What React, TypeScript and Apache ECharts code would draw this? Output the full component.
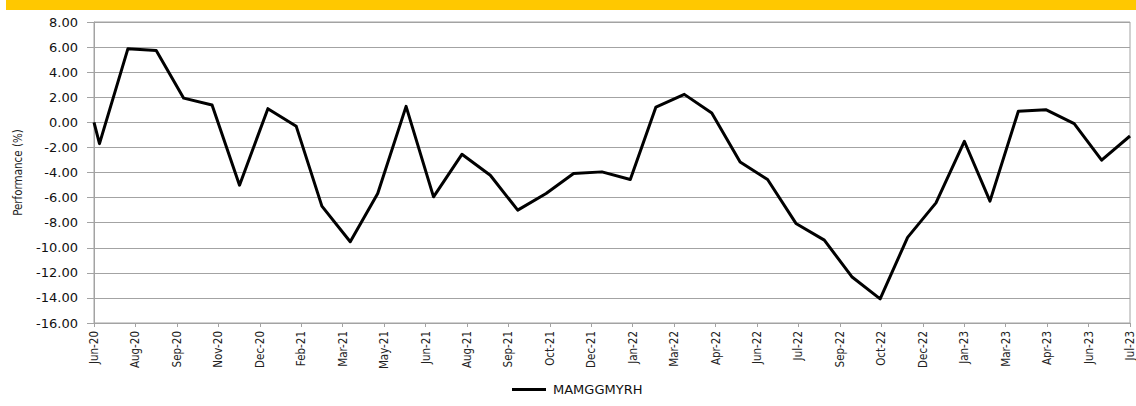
import React, { useEffect, useRef } from "react";
import * as echarts from "echarts";

const seriesName = "MAMGGMYRH";

const tickLabels = [
  "Jun-20", "Aug-20", "Sep-20", "Nov-20", "Dec-20", "Feb-21", "Mar-21", "May-21", "Jun-21",
  "Aug-21", "Sep-21", "Oct-21", "Dec-21", "Jan-22", "Mar-22", "Apr-22", "Jun-22", "Jul-22",
  "Sep-22", "Oct-22", "Dec-22", "Jan-23", "Mar-23", "Apr-23", "Jun-23", "Jul-23",
];

const dates = [
  "2020-06-24", "2020-06-30",
  "2020-07-31", "2020-08-31", "2020-09-30", "2020-10-31", "2020-11-30", "2020-12-31",
  "2021-01-31", "2021-02-28", "2021-03-31", "2021-04-30", "2021-05-31", "2021-06-30",
  "2021-07-31", "2021-08-31", "2021-09-30", "2021-10-31", "2021-11-30", "2021-12-31",
  "2022-01-31", "2022-02-28", "2022-03-31", "2022-04-30", "2022-05-31", "2022-06-30",
  "2022-07-31", "2022-08-31", "2022-09-30", "2022-10-31", "2022-11-30", "2022-12-31",
  "2023-01-31", "2023-02-28", "2023-03-31", "2023-04-30", "2023-05-31", "2023-06-30",
  "2023-07-31",
];

const performance = [
  0.0, -1.7,
  5.86, 5.73, 1.93, 1.38, -5.01, 1.09,
  -0.32, -6.68, -9.52, -5.67, 1.27, -5.94,
  -2.55, -4.22, -7.0, -5.67, -4.08, -3.95,
  -4.56, 1.22, 2.23, 0.74, -3.16, -4.56,
  -8.06, -9.39, -12.31, -14.08, -9.17, -6.42,
  -1.51, -6.28, 0.88, 1.01, -0.1, -3.02,
  -1.09,
];

const yMin = -16;
const yMax = 8;
const yStep = 2;

const narrowFont = "'Liberation Sans Narrow', 'DejaVu Sans Condensed', 'Arial Narrow', sans-serif";
const wideFont = "'DejaVu Sans', Verdana, sans-serif";
const gridColor = "#a3a3a3";

export default function App() {
  const ref = useRef<HTMLDivElement>(null);

  useEffect(() => {
    if (!ref.current) return;
    const chart = echarts.init(ref.current, undefined, { renderer: "svg" });
    const times = dates.map((d) => Date.parse(d));
    const option = {
      animation: false,
      backgroundColor: "#ffffff",
      graphic: [
        {
          type: "rect",
          left: 6,
          top: 0,
          shape: { width: 1130, height: 10 },
          style: { fill: "#FFC800" },
          silent: true,
        },
      ],
      grid: {
        left: 94,
        right: 6,
        top: 22,
        bottom: 83,
        show: true,
        borderColor: gridColor,
        borderWidth: 1,
        containLabel: false,
      },
      legend: {
        show: true,
        left: 512,
        top: 383,
        padding: 0,
        icon: "rect",
        itemWidth: 34,
        itemHeight: 3,
        itemGap: 10,
        data: [{ name: seriesName, icon: "rect", itemStyle: { color: "#000" } }],
        textStyle: { fontFamily: wideFont, fontSize: 13, color: "#111", padding: [0, 0, 0, 2] },
      },
      xAxis: [
        {
          type: "time",
          show: false,
          min: times[0],
          max: times[times.length - 1],
          splitLine: { show: false },
        },
        {
          type: "category",
          data: tickLabels,
          boundaryGap: false,
          position: "bottom",
          axisLine: { show: false, onZero: false },
          axisTick: { show: false },
          splitLine: { show: false },
          axisLabel: {
            interval: 0,
            rotate: 90,
            margin: 8,
            fontSize: 11.5,
            fontFamily: narrowFont,
            color: "#222",
          },
        },
        {
          type: "category",
          data: tickLabels,
          boundaryGap: false,
          position: "bottom",
          axisLine: { show: true, onZero: true, lineStyle: { color: gridColor, width: 1 } },
          axisTick: { show: true, interval: 0, length: 4, lineStyle: { color: gridColor } },
          axisLabel: { show: false },
          splitLine: { show: false },
        },
      ],
      yAxis: {
        type: "value",
        min: yMin,
        max: yMax,
        interval: yStep,
        name: "Performance (%)",
        nameLocation: "middle",
        nameGap: 70,
        nameTextStyle: { fontFamily: narrowFont, fontSize: 11.5, color: "#222" },
        axisLine: { show: true, lineStyle: { color: gridColor, width: 1 } },
        axisTick: { show: true, length: 7, lineStyle: { color: gridColor } },
        splitLine: { show: true, lineStyle: { color: gridColor, width: 1 } },
        axisLabel: {
          margin: 16,
          fontFamily: wideFont,
          fontSize: 13,
          color: "#111",
          formatter: (v: number) => v.toFixed(2),
        },
      },
      series: [
        {
          name: seriesName,
          type: "line",
          xAxisIndex: 0,
          yAxisIndex: 0,
          data: times.map((t, i) => [t, performance[i]]),
          symbol: "none",
          showSymbol: false,
          lineStyle: { color: "#000", width: 3, join: "round" },
          itemStyle: { color: "#000" },
          clip: false,
        },
      ],
    };
    chart.setOption(option as any);
    return () => chart.dispose();
  }, []);

  return (
    <div
      ref={ref}
      style={{ position: "fixed", left: 0, top: 0, width: 1136, height: 406, background: "#fff" }}
    />
  );
}
